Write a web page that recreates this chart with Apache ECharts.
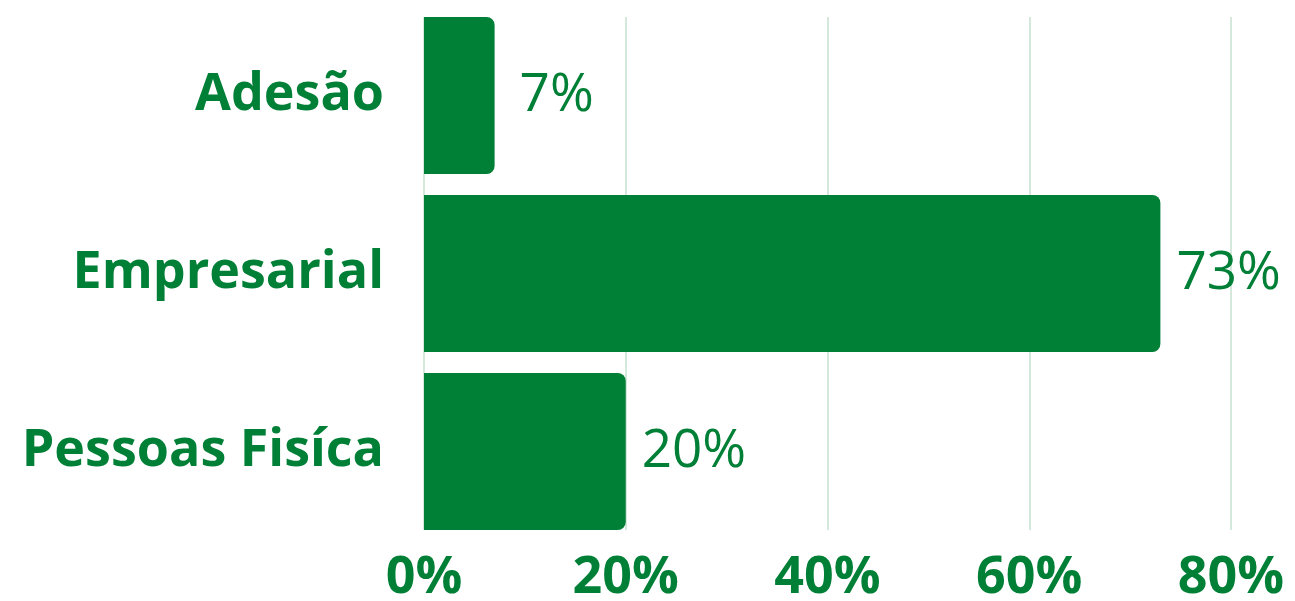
<!DOCTYPE html>
<html><head><meta charset="utf-8">
<script src="https://cdn.jsdelivr.net/npm/echarts@6/dist/echarts.min.js"></script>
<style>html,body{margin:0;padding:0;background:#fff}#c{width:1295px;height:601px}</style>
</head><body><div id="c"></div>
<script>
const categories = ['Adesão', 'Empresarial', 'Pessoas Fisíca'];
const values = [7, 73, 20];
const xTicks = [0, 20, 40, 60, 80];
const green = '#007f36';
const chart = echarts.init(document.getElementById('c'));
const seriesData = values.map((v, i) => i === 0 ? {value: v, label: {distance: 25}} : v);
chart.setOption({
  animation: false,
  grid: [
    {left: 424, right: 64, top: 17, bottom: 71, containLabel: false, outerBoundsMode: 'none'},
    {left: 424, right: 64, top: 6.5, bottom: 60.5, containLabel: false, outerBoundsMode: 'none'}
  ],
  xAxis: [{
    gridIndex: 0, type: 'value', min: xTicks[0], max: xTicks[xTicks.length-1], interval: 20,
    axisLine: {show: false}, axisTick: {show: false},
    splitLine: {show: true, lineStyle: {color: '#c6e0cf', width: 1.5}},
    axisLabel: {formatter: '{value}%', color: green, fontFamily: 'Open Sans', fontWeight: 'bold', fontSize: 52, margin: 22}
  }, {
    gridIndex: 1, type: 'value', min: xTicks[0], max: xTicks[xTicks.length-1], interval: 20,
    show: false
  }],
  yAxis: [{
    gridIndex: 0, type: 'category', data: categories, inverse: true, show: false
  }, {
    gridIndex: 1, type: 'category', data: categories, inverse: true,
    axisLine: {show: false}, axisTick: {show: false}, splitLine: {show: false},
    axisLabel: {color: green, fontFamily: 'Open Sans', fontWeight: 'bold', fontSize: 52, margin: 40}
  }],
  series: [{
    type: 'bar', xAxisIndex: 1, yAxisIndex: 1, data: seriesData, barCategoryGap: '11.8%',
    itemStyle: {color: green, borderRadius: [0, 8, 8, 0]},
    label: {show: true, position: 'right', distance: 16, formatter: '{c}%', color: green, fontFamily: 'Open Sans', fontSize: 53}
  }]
});
</script></body></html>
